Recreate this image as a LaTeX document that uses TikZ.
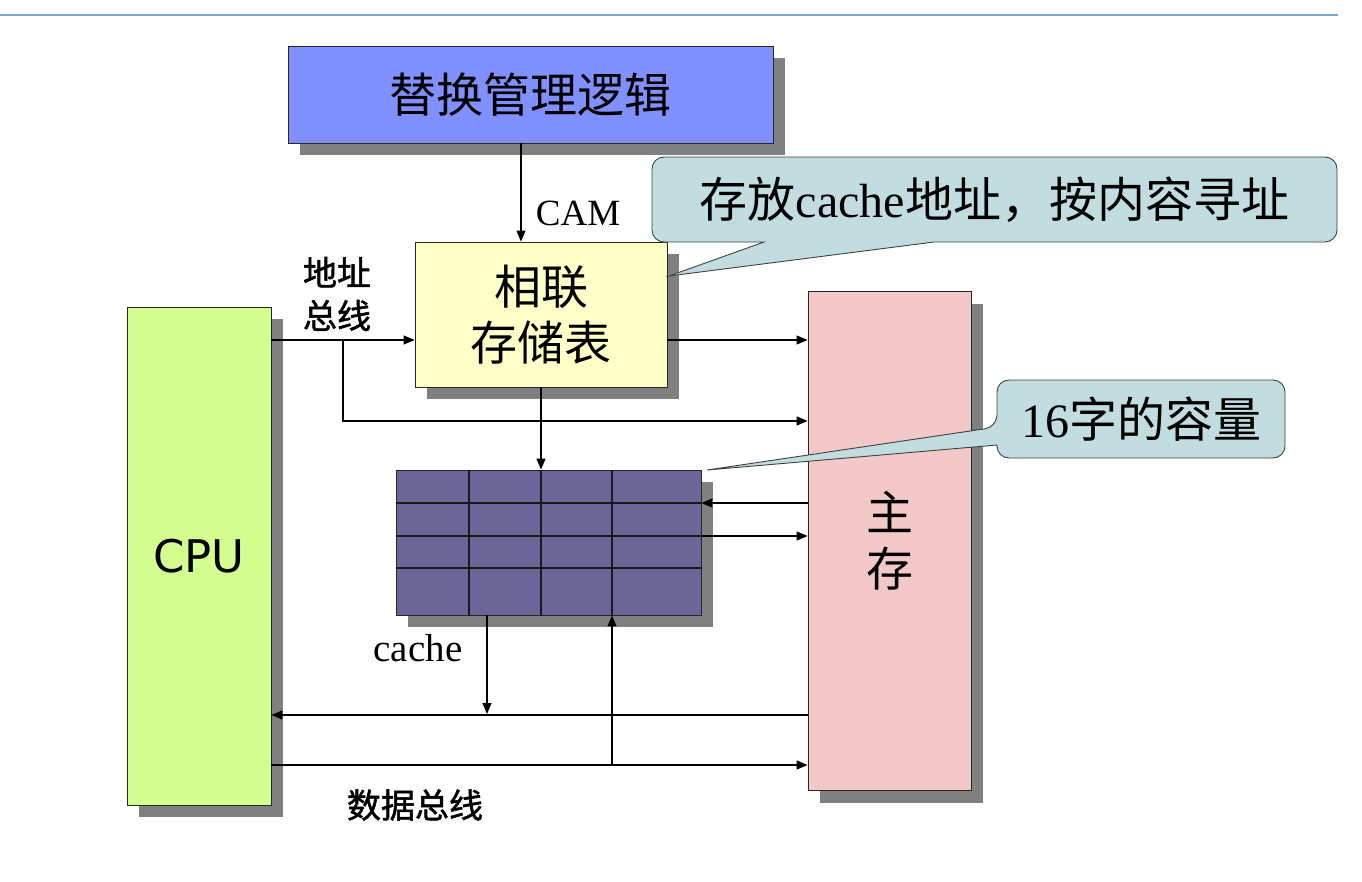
\documentclass[tikz,border=0pt]{standalone}
\usepackage{fontspec}
\setmainfont{Liberation Serif}
\newfontfamily\cjk{Noto Sans CJK SC}
\newfontfamily\cjkmed[FakeBold=1.5]{Noto Sans CJK SC}
\newfontfamily\cpufont{DejaVu Sans}
\usetikzlibrary{arrows.meta,shadows}

\definecolor{replblue}{RGB}{128,144,255}
\definecolor{assocyellow}{RGB}{255,255,200}
\definecolor{cpugreen}{RGB}{212,255,144}
\definecolor{mempink}{RGB}{242,200,200}
\definecolor{cachepurple}{RGB}{106,102,152}
\definecolor{calloutblue}{RGB}{194,221,224}
\definecolor{topblue}{RGB}{120,170,210}

\tikzset{
  blockbox/.style={draw=black!85, line width=0.8pt, inner sep=0pt,
    drop shadow={shadow xshift=12pt, shadow yshift=-12pt, fill=black!50, opacity=1}},
  arr/.style={line width=1.1pt, -{Triangle[length=11pt,width=9pt]}},
  gridline/.style={line width=1.2pt, black!90},
  callbox/.style={draw=black!75, line width=0.9pt, fill=calloutblue},
  bigtext/.style={font=\cjk\fontsize{47}{56}\selectfont, align=center},
  notetext/.style={font=\fontsize{48}{56}\selectfont},
  buslabel/.style={font=\cjkmed\fontsize{34}{43}\selectfont, align=center},
  latinlabel/.style={font=\fontsize{37}{44}\selectfont},
}

\begin{document}
\begin{tikzpicture}[x=1pt,y=-1pt]
			%%%%% FRAME %%%%%
			\useasboundingbox (0,0) rectangle (1362,881);
			\draw[topblue, line width=1.2pt] (0,15) -- (1338,15);
			
			%%%%% BLOCKS %%%%%
			\node[blockbox, fill=replblue, minimum width=485pt, minimum height=97pt, bigtext] (repl) at (530.5,94.5) {替换管理逻辑};
			\node[blockbox, fill=assocyellow, minimum width=252pt, minimum height=145pt, bigtext] (assoc) at (541,314.5) {相联\\存储表};
			\node[blockbox, fill=cpugreen, minimum width=144pt, minimum height=498pt, font=\cpufont\fontsize{45}{54}\selectfont] (cpu) at (199,556) {CPU};
			\node[blockbox, fill=mempink, minimum width=163pt, minimum height=499pt, bigtext] (mem) at (889.5,541) {主\\存};
			\node[blockbox, fill=cachepurple, minimum width=305pt, minimum height=145pt] (cache) at (548.5,542.5) {};
			
			\foreach \gx in {469,541,612}
				\draw[gridline] (\gx,470) -- (\gx,615);
			\foreach \gy in {503,536,568}
				\draw[gridline] (396,\gy) -- (701,\gy);
			
			%%%%% BUS LEVELS %%%%%
			\coordinate (xr) at (521,0);
			\coordinate (xg) at (487,0);
			\coordinate (ya) at (0,340);
			\coordinate (yb) at (0,421);
			\coordinate (yc) at (0,503);
			\coordinate (yd) at (0,536);
			\coordinate (ye) at (0,715);
			\coordinate (yf) at (0,765);
			\coordinate (atap) at (343,340);
			\coordinate (dtap) at (612,765);
			
			%%%%% CONNECTORS %%%%%
			\draw[arr] (repl.south -| xr) -- (assoc.north -| xr);
			\draw[arr] (cpu.east |- ya) -- (assoc.west |- ya);
			\draw[arr] (atap) |- (mem.west |- yb);
			\draw[arr] (assoc.east |- ya) -- (mem.west |- ya);
			\draw[arr] (assoc.south) -- (assoc.south |- cache.north);
			\draw[arr] (mem.west |- yc) -- (cache.east |- yc);
			\draw[arr] (cache.east |- yd) -- (mem.west |- yd);
			\draw[arr] (cache.south -| xg) -- ([yshift=1pt]xg |- ye);
			\draw[arr] (mem.west |- ye) -- (cpu.east |- ye);
			\draw[arr] (cpu.east |- yf) -- (mem.west |- yf);
			\draw[arr] (dtap) -- (dtap |- cache.south);
			
			%%%%% LABELS %%%%%
			\node[latinlabel] (cam) at (578,213) {CAM};
			\node[buslabel] (abus) at (337,294) {地址\\总线};
			\node[latinlabel, font=\fontsize{39}{44}\selectfont] (cachelbl) at (418,648) {cache};
			\node[buslabel] (dbus) at (415,805) {数据总线};
			
			%%%%% CALLOUTS %%%%%
			\draw[callbox] (764,242) -- (669,276) -- (934,242) [rounded corners=12pt] -- (1337,242) -- (1337,157) -- (652,157) -- (652,242) [sharp corners] -- cycle;
			\node[notetext] (note1) at (994.5,199.5) {{\cjk 存放}cache{\cjk 地址，按内容寻址}};
			
			\draw[callbox] (997,427) -- (707,470) -- (997,445) [rounded corners=12pt] -- (997,458) -- (1285,458) -- (1285,380) -- (997,380) -- cycle;
			\node[notetext] (note2) at (1141,419) {16{\cjk 字的容量}};
			
\end{tikzpicture}
\end{document}
